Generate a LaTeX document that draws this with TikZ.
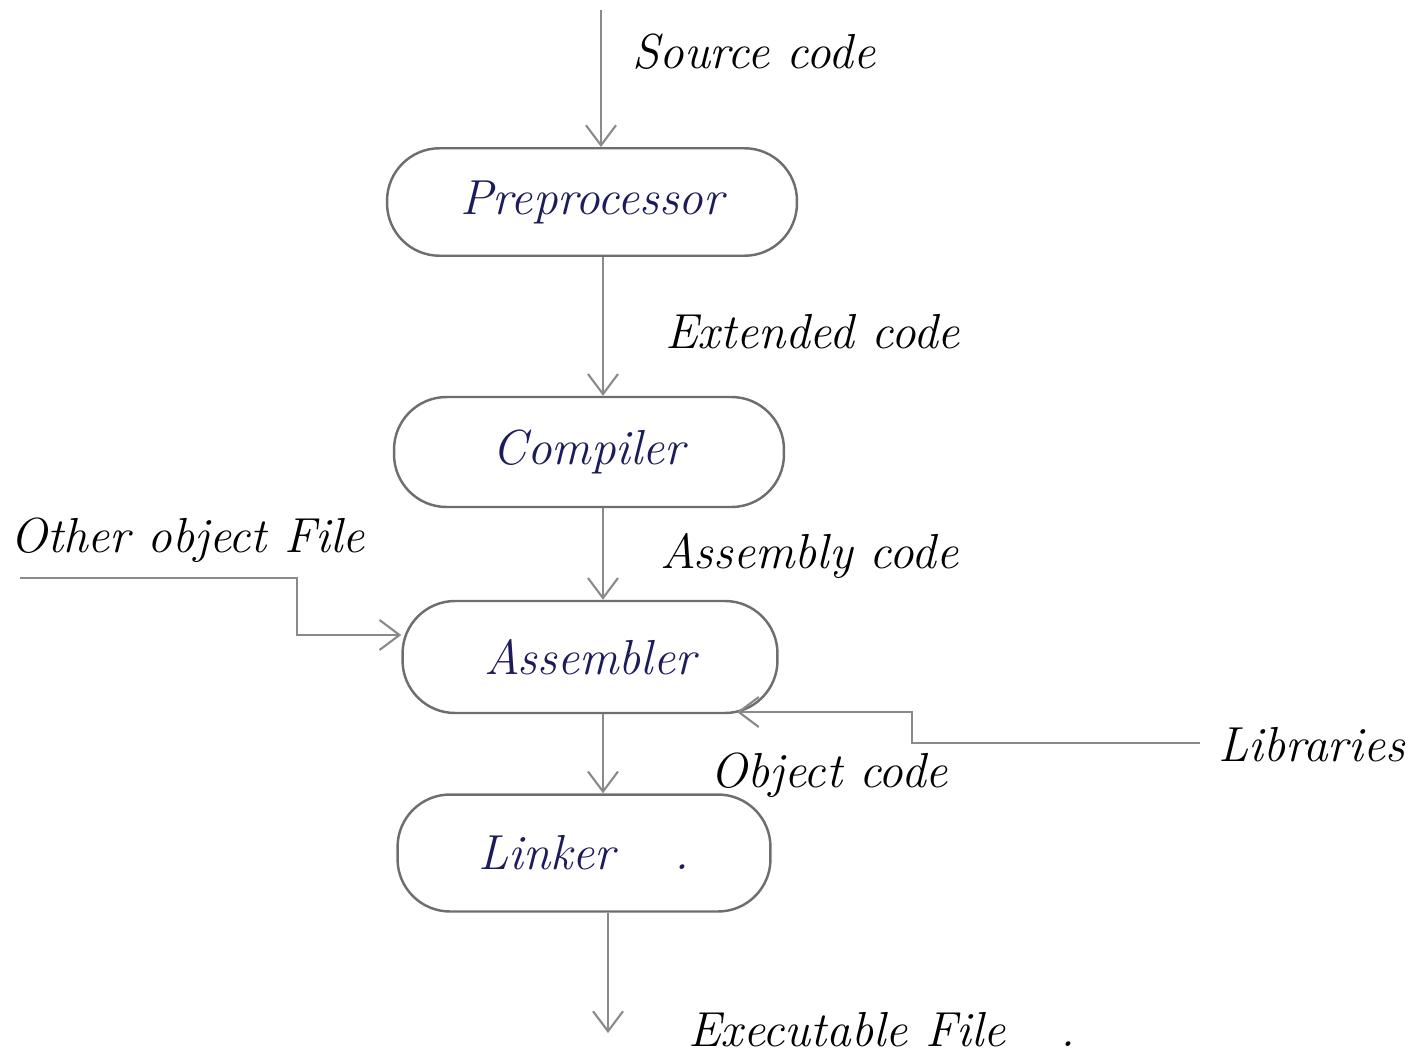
\documentclass[tikz,border=0pt]{standalone}
\usetikzlibrary{arrows.meta,calc}
\definecolor{pencil}{HTML}{8A8A8A}
\definecolor{boxline}{HTML}{6E6E6E}
\definecolor{inkblue}{HTML}{1C1C5C}
\begin{document}
\begin{tikzpicture}[x=0.02cm,y=-0.02cm,
  stage/.style={draw=boxline,line width=1.4pt,rectangle,rounded corners=1.05cm,
     font=\fontsize{28}{33}\selectfont\itshape,text=inkblue,inner sep=0pt},
  lbl/.style={font=\fontsize{28}{33}\selectfont\itshape,text=black,anchor=west,inner sep=0pt},
  flow/.style={draw=pencil,line width=1.6pt,-{Straight Barb[length=4mm,width=6mm,line width=1.2pt]}},
]
\useasboundingbox (0,0) rectangle (1415,1061);
% stages
\node[stage,minimum width=8.2cm,minimum height=2.15cm] (pre) at (592,202) {Preprocessor};
\node[stage,minimum width=7.8cm,minimum height=2.2cm] (comp) at (589,452) {Compiler};
\node[stage,minimum width=7.5cm,minimum height=2.24cm] (asm) at (590,657) {Assembler};
\node[stage,minimum width=7.46cm,minimum height=2.34cm] (lnk) at (584,853) {Linker\hspace{1.2cm}.};
% axis and free ends
\coordinate (ax) at (603,0);
\coordinate (src) at (601,10);
\coordinate (exe) at (608,1033);
\coordinate (of1) at (20,578);
\coordinate (of2) at (297,635);
\coordinate (lib1) at (1200,743);
\coordinate (lib2) at (912,712);
\coordinate (libtip) at (737,712);
% vertical flow
\draw[flow] (src) -- (src |- pre.north);
\draw[flow] (pre.south -| ax) -- (comp.north -| ax);
\draw[flow] (comp.south -| ax) -- (asm.north -| ax);
\draw[flow] (asm.south -| ax) -- (lnk.north -| ax);
\draw[flow] (lnk.south -| exe) -- (exe);
% side inputs
\draw[flow] (of1) -| (of2) -- (of2 -| asm.west);
\draw[flow] (lib1) -| (lib2) -- (libtip);
% labels
\node[lbl] (lsrc) at (632,52) {Source code};
\node[lbl] (lext) at (665,332) {Extended code};
\node[lbl] (lasm) at (660,556) {Assembly code};
\node[lbl] (loth) at (10,540) {Other object File};
\node[lbl] (llib) at (1218,745) {Libraries};
\node[lbl] (lobj) at (710,775) {Object code};
\node[lbl] (lexe) at (688,1030) {Executable File\hspace{1.1cm}.};
\end{tikzpicture}
\end{document}
